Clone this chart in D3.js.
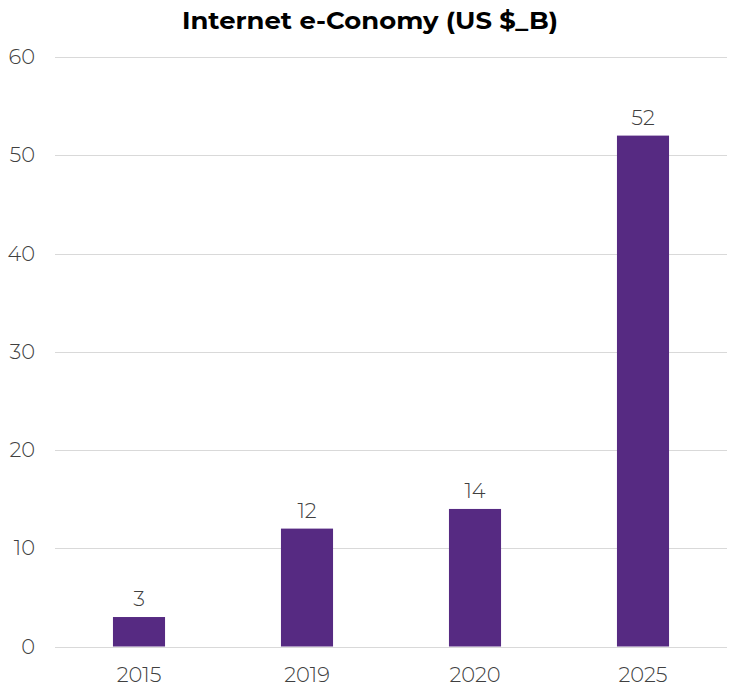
<!DOCTYPE html>
<html>
<head>
<meta charset="utf-8">
<script src="https://cdn.jsdelivr.net/npm/d3@7"></script>
<style>
  html, body { margin: 0; padding: 0; background: #ffffff; }
  svg { display: block; }
  text { font-family: Montserrat, "Noto Sans", "Open Sans", sans-serif; }
</style>
</head>
<body>
<script>
// Chart data
const title = "Internet e-Conomy (US $_B)";
const years = ["2015", "2019", "2020", "2025"];
const values = [3, 12, 14, 52];
const yTicks = [0, 10, 20, 30, 40, 50, 60];

const width = 731, height = 685;
const margin = { top: 57, right: 4, bottom: 38, left: 55 };
const labelSize = 21;
const labelColor = "#404040";

const svg = d3.select("body").append("svg")
  .attr("width", width)
  .attr("height", height);

const x = d3.scaleBand()
  .domain(years)
  .range([margin.left, width - margin.right])
  .paddingInner(0.69)
  .paddingOuter(0.345);

const y = d3.scaleLinear()
  .domain([0, 60])
  .range([height - margin.bottom - 0.5, margin.top]);

// Horizontal gridlines with the value labels on the left
const yAxis = d3.axisLeft(y)
  .tickValues(yTicks)
  .tickSize(-(width - margin.left - margin.right))
  .tickFormat(d3.format("d"));

const gy = svg.append("g")
  .attr("transform", `translate(${margin.left},0)`)
  .call(yAxis);
gy.select(".domain").remove();
gy.selectAll(".tick line")
  .attr("stroke", "#d9d9d9")
  .attr("stroke-width", 1)
  .attr("shape-rendering", "crispEdges");
gy.selectAll(".tick text")
  .attr("fill", labelColor)
  .attr("font-size", labelSize)
  .attr("font-weight", 300)
  .attr("x", -20);

// Category labels under the bars
const xAxis = d3.axisBottom(x).tickSize(0).tickPadding(0);
const gx = svg.append("g")
  .attr("transform", `translate(0,${y(0)})`)
  .call(xAxis);
gx.select(".domain").remove();
gx.selectAll(".tick text")
  .attr("fill", labelColor)
  .attr("font-size", labelSize)
  .attr("font-weight", 300)
  .attr("dy", null)
  .attr("y", 35);

const rows = years.map((k, i) => ({ k, v: values[i] }));

// Bars
svg.append("g").selectAll("rect")
  .data(rows)
  .join("rect")
  .attr("x", d => x(d.k))
  .attr("width", x.bandwidth())
  .attr("y", d => y(d.v))
  .attr("height", d => y(0) - y(d.v))
  .attr("fill", "#562a82");

// Value labels above the bars
svg.append("g").selectAll("text")
  .data(rows)
  .join("text")
  .attr("x", d => x(d.k) + x.bandwidth() / 2)
  .attr("y", d => y(d.v) - 11)
  .attr("text-anchor", "middle")
  .attr("fill", labelColor)
  .attr("font-size", labelSize)
  .attr("font-weight", 300)
  .text(d => d.v);

// Title
svg.append("text")
  .attr("x", 370)
  .attr("y", 29)
  .attr("text-anchor", "middle")
  .attr("font-size", 23)
  .attr("font-weight", 700)
  .attr("fill", "#000000")
  .attr("textLength", 376)
  .attr("lengthAdjust", "spacingAndGlyphs")
  .text(title);
</script>
</body>
</html>
